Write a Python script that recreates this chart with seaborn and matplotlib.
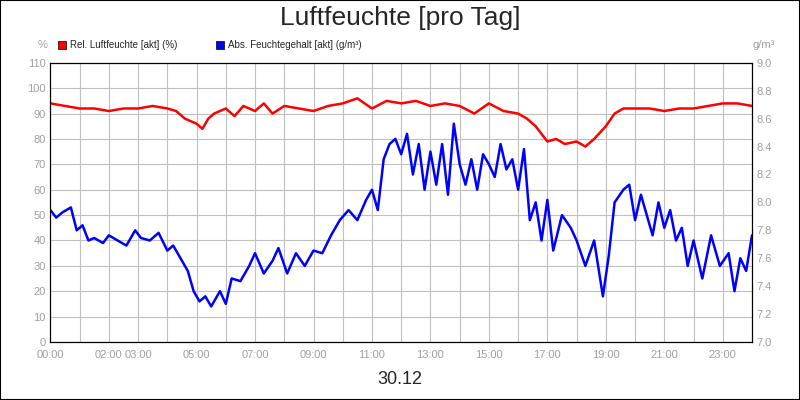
import numpy as np
import pandas as pd
import matplotlib
matplotlib.use("Agg")
import matplotlib.pyplot as plt
import seaborn as sns
from matplotlib.patches import Rectangle

# hours of day
rel_hours = [0, 0.5, 1, 1.5, 2, 2.5, 3, 3.5, 4, 4.3, 4.6, 5, 5.2, 5.4, 5.6, 6, 6.3, 6.6, 7, 7.3, 7.6,
             8, 8.5, 9, 9.5, 10, 10.5, 11, 11.5, 12, 12.5, 13, 13.5, 14, 14.5, 15, 15.5, 16,
             16.3, 16.6, 17, 17.3, 17.6, 18, 18.3, 18.6, 19, 19.3, 19.6, 20, 20.5, 21, 21.5,
             22, 22.5, 23, 23.5, 24]
rel_vals = [94, 93, 92, 92, 91, 92, 92, 93, 92, 91, 88, 86, 84, 88, 90, 92, 89, 93, 91, 94, 90,
            93, 92, 91, 93, 94, 96, 92, 95, 94, 95, 93, 94, 93, 90, 94, 91, 90,
            88, 85, 79, 80, 78, 79, 77, 80, 85, 90, 92, 92, 92, 91, 92,
            92, 93, 94, 94, 93]

abs_hours = [0, 0.2, 0.4, 0.7, 0.9, 1.1, 1.3, 1.5, 1.8, 2.0, 2.3, 2.6, 2.9, 3.1, 3.4, 3.7, 4.0, 4.2,
             4.5, 4.7, 4.9, 5.1, 5.3, 5.5, 5.8, 6.0, 6.2, 6.5, 6.8, 7.0, 7.3, 7.6, 7.8, 8.1,
             8.4, 8.7, 9.0, 9.3, 9.6, 9.9, 10.2, 10.5, 10.8, 11.0, 11.2, 11.4, 11.6, 11.8, 12.0,
             12.2, 12.4, 12.6, 12.8, 13.0, 13.2, 13.4, 13.6, 13.8, 14.0, 14.2, 14.4, 14.6, 14.8,
             15.0, 15.2, 15.4, 15.6, 15.8, 16.0, 16.2, 16.4, 16.6, 16.8, 17.0, 17.2, 17.5, 17.8,
             18.0, 18.3, 18.6, 18.9, 19.1, 19.3, 19.6, 19.8, 20.0, 20.2, 20.4, 20.6, 20.8, 21.0,
             21.2, 21.4, 21.6, 21.8, 22.0, 22.3, 22.6, 22.9, 23.2, 23.4, 23.6, 23.8, 24.0]
abs_pct = [52, 49, 51, 53, 44, 46, 40, 41, 39, 42, 40, 38, 44, 41, 40, 43, 36, 38,
           32, 28, 20, 16, 18, 14, 20, 15, 25, 24, 30, 35, 27, 32, 37, 27,
           35, 30, 36, 35, 42, 48, 52, 48, 56, 60, 52, 72, 78, 80, 74,
           82, 66, 78, 60, 75, 62, 78, 58, 86, 70, 62, 72, 60, 74,
           70, 65, 78, 68, 72, 60, 76, 48, 55, 40, 56, 36, 50, 45,
           40, 30, 40, 18, 34, 55, 60, 62, 48, 58, 50, 42, 55, 45,
           52, 40, 45, 30, 40, 25, 42, 30, 35, 20, 33, 28, 42]
# convert left-axis units to g/m3 (0..110 % <-> 7.0..9.0)
abs_vals = [round(7 + p / 55, 3) for p in abs_pct]

x_ticks = [0, 2, 3, 5, 7, 9, 11, 13, 15, 17, 19, 21, 23]
x_labels = ["00:00", "02:00", "03:00", "05:00", "07:00", "09:00", "11:00", "13:00",
            "15:00", "17:00", "19:00", "21:00", "23:00"]

df_rel = pd.DataFrame({"h": rel_hours, "v": rel_vals})
df_abs = pd.DataFrame({"h": abs_hours, "v": abs_vals})

sns.set_style("white")
plt.rcParams['font.family'] = ['Liberation Sans', 'DejaVu Sans']

fig = plt.figure(figsize=(8, 4), dpi=100)
fig.patches.append(Rectangle((0, 0), 1, 1, transform=fig.transFigure, fill=False,
                             edgecolor="black", lw=1.5))
ax = fig.add_axes([0.063, 0.145, 0.877, 0.698])
ax2 = ax.twinx()

sns.lineplot(data=df_rel, x="h", y="v", ax=ax, color="#ff0000", lw=1.8)
sns.lineplot(data=df_abs, x="h", y="v", ax=ax2, color="#0000ff", lw=1.8)

ax.set_xlim(0, 24)
ax.set_ylim(0, 110)
ax2.set_ylim(7.0, 9.0)
ax.set_yticks(range(0, 111, 10))
ax2.set_yticks(np.arange(7.0, 9.01, 0.2))
ax2.set_yticklabels([f"{t:.1f}" for t in np.arange(7.0, 9.01, 0.2)])
ax.set_xticks(range(0, 25), minor=True)
ax.set_xticks(x_ticks)
ax.set_xticklabels(x_labels)
ax.grid(True, which="both", axis="x", color="#c0c0c0", lw=0.8)
ax.grid(True, which="major", axis="y", color="#c0c0c0", lw=0.8)
for a in (ax, ax2):
    a.set_xlabel("")
    a.set_ylabel("")
    a.tick_params(labelsize=8, colors="#a0a0a0", length=0)
    for s in a.spines.values():
        s.set_color("black")
ax.tick_params(axis="x", pad=6)

fig.text(0.5, 0.955, "Luftfeuchte [pro Tag]", ha="center", va="center", fontsize=19)
fig.text(0.5, 0.05, "30.12", ha="center", va="center", fontsize=13)
fig.text(0.053, 0.88, "%", ha="center", fontsize=8, color="#a0a0a0")
fig.text(0.955, 0.88, "g/m³", ha="center", fontsize=8, color="#a0a0a0")

fig.patches.append(Rectangle((0.072, 0.878), 0.01, 0.02, transform=fig.transFigure,
                             facecolor="#ff0000", edgecolor="black", lw=0.5))
fig.text(0.087, 0.888, "Rel. Luftfeuchte [akt] (%)", fontsize=7, va="center")
fig.patches.append(Rectangle((0.27, 0.878), 0.01, 0.02, transform=fig.transFigure,
                             facecolor="#0000ff", edgecolor="black", lw=0.5))
fig.text(0.285, 0.888, "Abs. Feuchtegehalt [akt] (g/m³)", fontsize=7, va="center")

fig.savefig("out.png", dpi=100)
